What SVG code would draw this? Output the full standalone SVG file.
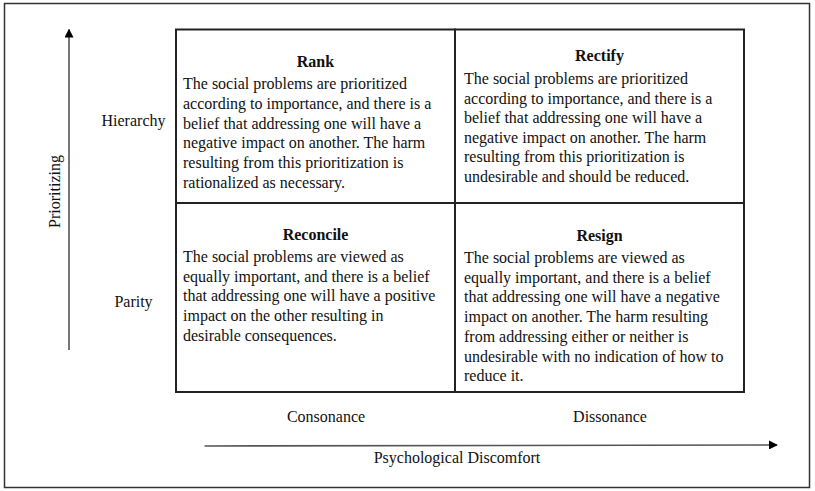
<svg xmlns="http://www.w3.org/2000/svg" width="815" height="491" viewBox="0 0 815 491">
  <style>
    text { font-family: "Liberation Serif", "Times New Roman", serif; fill: #111; font-size: 16px; }
    .h { font-weight: bold; text-anchor: middle; }
    .c { text-anchor: middle; }
    .cell { fill: none; stroke: #222; stroke-width: 2; }
    .axis { stroke: #555; stroke-width: 1.6; fill: none; }
  </style>
  <defs>
    <marker id="arr" viewBox="0 0 10 10" refX="9" refY="5" markerWidth="9" markerHeight="9" markerUnits="userSpaceOnUse" orient="auto">
      <path d="M0,0 L10,5 L0,10 Z" fill="#000"/>
    </marker>
  </defs>
  <rect x="0" y="0" width="815" height="491" fill="#fff"/>
  <rect id="frame" x="4.5" y="3.5" width="805" height="484" fill="none" stroke="#333" stroke-width="1.5"/>

  <g id="rank">
    <rect class="cell" x="176" y="29.5" width="279" height="173.5"/>
    <text class="h" x="315.5" y="67">Rank</text>
    <text x="183" y="89">The social problems are prioritized</text>
    <text x="183" y="109">according to importance, and there is a</text>
    <text x="183" y="129">belief that addressing one will have a</text>
    <text x="183" y="148">negative impact on another. The harm</text>
    <text x="183" y="168">resulting from this prioritization is</text>
    <text x="183" y="188">rationalized as necessary.</text>
  </g>
  <g id="rectify">
    <rect class="cell" x="455" y="29.5" width="289" height="173.5"/>
    <text class="h" x="599.5" y="61">Rectify</text>
    <text x="464" y="84">The social problems are prioritized</text>
    <text x="464" y="104">according to importance, and there is a</text>
    <text x="464" y="123">belief that addressing one will have a</text>
    <text x="464" y="143">negative impact on another. The harm</text>
    <text x="464" y="162">resulting from this prioritization is</text>
    <text x="464" y="182">undesirable and should be reduced.</text>
  </g>
  <g id="reconcile">
    <rect class="cell" x="176" y="203" width="279" height="189"/>
    <text class="h" x="315.5" y="240">Reconcile</text>
    <text x="183" y="262">The social problems are viewed as</text>
    <text x="183" y="282">equally important, and there is a belief</text>
    <text x="183" y="301">that addressing one will have a positive</text>
    <text x="183" y="321">impact on the other resulting in</text>
    <text x="183" y="341">desirable consequences.</text>
  </g>
  <g id="resign">
    <rect class="cell" x="455" y="203" width="289" height="189"/>
    <text class="h" x="599.5" y="241">Resign</text>
    <text x="464" y="263">The social problems are viewed as</text>
    <text x="464" y="283">equally important, and there is a belief</text>
    <text x="464" y="302">that addressing one will have a negative</text>
    <text x="464" y="322">impact on another. The harm resulting</text>
    <text x="464" y="342">from addressing either or neither is</text>
    <text x="464" y="362">undesirable with no indication of how to</text>
    <text x="464" y="381">reduce it.</text>
  </g>

  <g id="labels">
    <text class="c" x="133.5" y="126">Hierarchy</text>
    <text class="c" x="133.5" y="307">Parity</text>
    <text class="c" transform="translate(59.5,191.5) rotate(-90)">Prioritizing</text>
    <text class="c" x="326" y="422">Consonance</text>
    <text class="c" x="610" y="422">Dissonance</text>
    <text class="c" x="457" y="463">Psychological Discomfort</text>
  </g>

  <g id="connectors">
    <line class="axis" x1="69" y1="350" x2="69" y2="29.5" marker-end="url(#arr)"/>
    <line class="axis" x1="204.5" y1="446" x2="777" y2="445" marker-end="url(#arr)"/>
  </g>
</svg>
